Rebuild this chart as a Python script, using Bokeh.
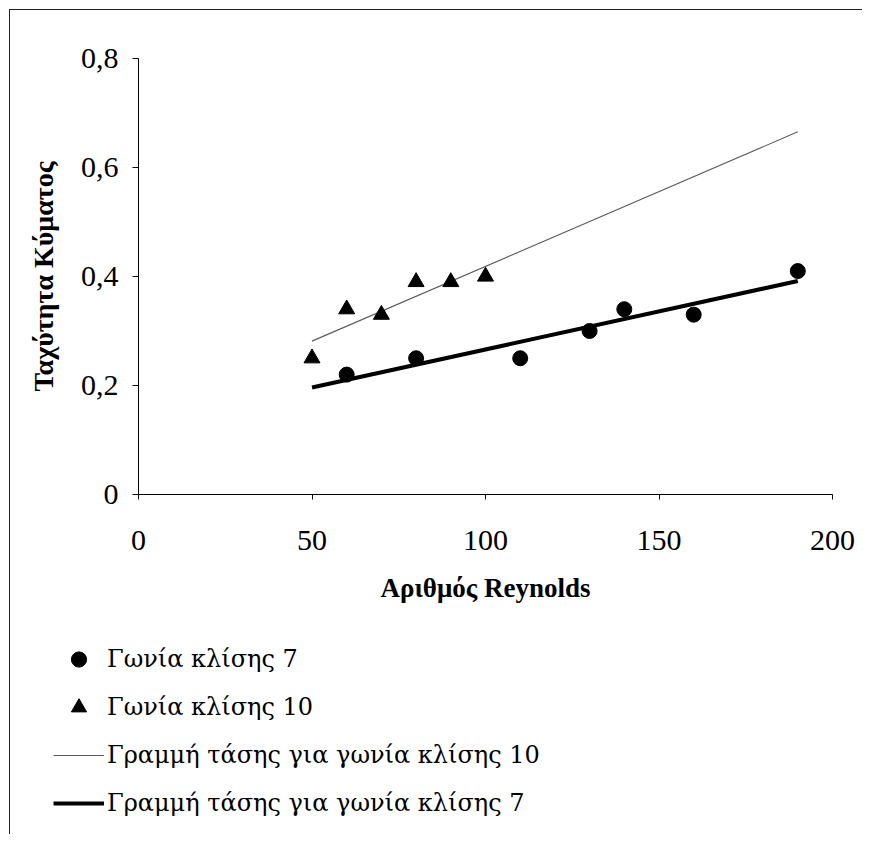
import numpy as np
from bokeh.plotting import figure
from bokeh.layouts import column
from bokeh.models import FixedTicker, Legend, LegendItem, Range1d
from bokeh.embed import file_html
from bokeh.resources import INLINE

# ---- data ----
re_7 = [60, 80, 110, 130, 140, 160, 190]
v_7 = [0.22, 0.25, 0.25, 0.30, 0.34, 0.33, 0.41]
re_10 = [50, 60, 70, 80, 90, 100]
v_10 = [0.25, 0.34, 0.33, 0.39, 0.39, 0.40]

x_ticks = [0, 50, 100, 150, 200]
y_ticks = [0, 0.2, 0.4, 0.6, 0.8]
y_tick_labels = ["0", "0,2", "0,4", "0,6", "0,8"]

x_title = "Αριθμός Reynolds"
y_title = "Ταχύτητα Κύματος"
labels = ["Γωνία κλίσης 7", "Γωνία κλίσης 10",
          "Γραμμή τάσης για γωνία κλίσης 10", "Γραμμή τάσης για γωνία κλίσης 7"]

# linear trend lines (least squares) over the full Reynolds range
all_x = re_7 + re_10
trend_x = [min(all_x), max(all_x)]
k7, b7 = np.polyfit(re_7, v_7, 1)
k10, b10 = np.polyfit(re_10, v_10, 1)
trend7 = [k7 * x + b7 for x in trend_x]
trend10 = [k10 * x + b10 for x in trend_x]

SERIF = "Liberation Serif"
LEGEND_FONT = "DejaVu Serif"

STY_T10 = dict(line_color="#5a5a5a", line_width=1.1)
STY_T7 = dict(line_color="black", line_width=4)
STY_C = dict(marker="circle", size=15, fill_color="black", line_color="black")
STY_TR = dict(marker="triangle", size=16, fill_color="black", line_color="black")

# ---- main chart ----
p = figure(output_backend="svg", toolbar_location=None,
           frame_width=694, frame_height=436,
           min_border_left=128, min_border_top=48, min_border_right=30,
           min_border_bottom=130,
           x_range=Range1d(0, 200), y_range=Range1d(0, 0.8))
p.outline_line_color = None
p.background_fill_color = "white"
p.border_fill_color = "white"
p.grid.visible = False

p.xaxis.ticker = FixedTicker(ticks=x_ticks)
p.yaxis.ticker = FixedTicker(ticks=y_ticks)
p.yaxis.major_label_overrides = dict(zip(y_ticks, y_tick_labels))
for ax in (p.xaxis[0], p.yaxis[0]):
    ax.axis_line_color = "black"
    ax.axis_line_width = 1
    ax.major_tick_line_color = "black"
    ax.minor_tick_line_color = None
    ax.major_tick_in = 0
    ax.major_label_text_font = SERIF
    ax.major_label_text_font_size = "30px"
    ax.major_label_text_color = "black"
    ax.axis_label_text_font = SERIF
    ax.axis_label_text_font_size = "27px"
    ax.axis_label_text_font_style = "bold"
    ax.axis_label_text_color = "black"
p.yaxis.axis_label_text_font_size = "28px"
p.xaxis.major_tick_out = 5
p.yaxis.major_tick_out = 6
p.xaxis.major_label_standoff = 31
p.yaxis.major_label_standoff = 14
p.xaxis.axis_label = x_title
p.yaxis.axis_label = y_title
p.xaxis.axis_label_standoff = 20
p.yaxis.axis_label_standoff = 19

p.line(trend_x, trend10, **STY_T10)
p.line(trend_x, trend7, **STY_T7)
p.scatter(re_7, v_7, **STY_C)
p.scatter(re_10, v_10, **STY_TR)

# ---- legend panel (below the chart) ----
q = figure(output_backend="svg", toolbar_location=None,
           frame_width=852, frame_height=210,
           min_border_left=0, min_border_right=0, min_border_top=0, min_border_bottom=0,
           x_axis_location=None, y_axis_location=None,
           x_range=Range1d(0, 1), y_range=Range1d(0, 1))
q.outline_line_color = None
q.grid.visible = False
q.background_fill_color = "white"
q.border_fill_color = "white"
# same series drawn outside this panel's view: only their legend glyphs show
q7 = q.scatter(re_7, v_7, **STY_C)
q10 = q.scatter(re_10, v_10, **STY_TR)
qt10 = q.line(trend_x, trend10, **STY_T10)
qt7 = q.line(trend_x, trend7, **STY_T7)

legend = Legend(items=[
    LegendItem(label=labels[0], renderers=[q7]),
    LegendItem(label=labels[1], renderers=[q10]),
    LegendItem(label=labels[2], renderers=[qt10]),
    LegendItem(label=labels[3], renderers=[qt7]),
], location=(43, 12))
legend.border_line_color = None
legend.background_fill_alpha = 0
legend.padding = 0
legend.margin = 0
legend.spacing = 10
legend.glyph_width = 51
legend.glyph_height = 38
legend.label_height = 38
legend.label_standoff = 3
legend.label_text_font = LEGEND_FONT
legend.label_text_font_style = "normal"
legend.label_text_font_size = "24px"
legend.label_text_color = "black"
q.add_layout(legend, "center")

layout = column(p, q, spacing=0)
layout.styles = {"margin-left": "9px", "margin-top": "9px",
                 "border-left": "1px solid #222", "border-top": "1px solid #222"}

open("out.html", "w").write(file_html(layout, INLINE))
